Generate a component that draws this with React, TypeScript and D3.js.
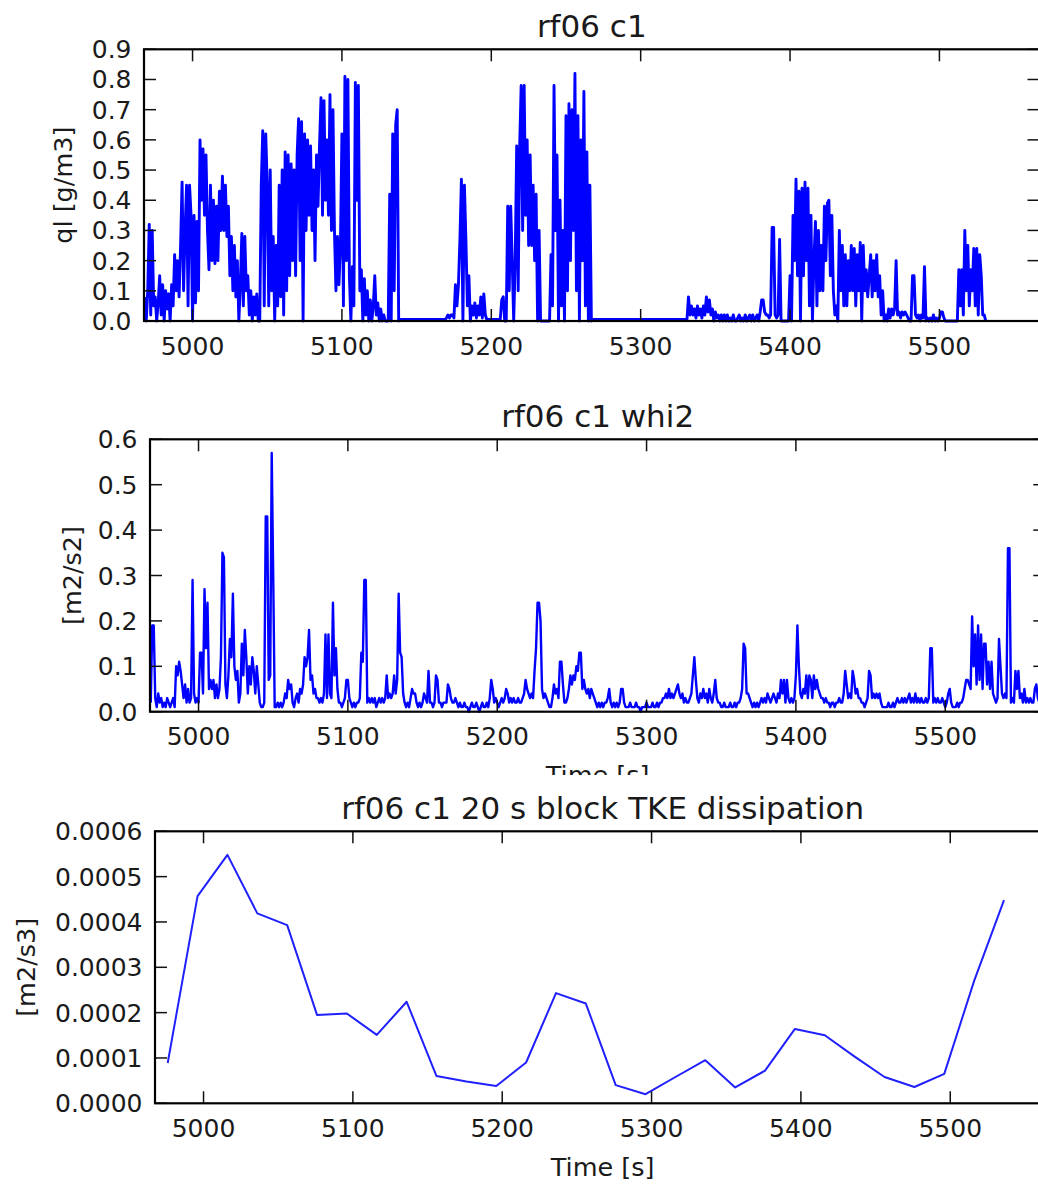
import React from 'react';
import * as d3 from 'd3';

// ---------------- data ----------------
const timeDomain: [number, number] = [4967.5, 5567];
const xTickValues = [5000, 5100, 5200, 5300, 5400, 5500];

const qlTicks = [0, 0.1, 0.2, 0.3, 0.4, 0.5, 0.6, 0.7, 0.8, 0.9];
const whi2Ticks = [0, 0.1, 0.2, 0.3, 0.4, 0.5, 0.6];
const dissTicks = [0, 0.0001, 0.0002, 0.0003, 0.0004, 0.0005, 0.0006];

// liquid water content [g/m3], 1 s samples; each entry: [start time, values...]
const qlSegments: [number, number[]][] = [
  [4968, [
    0.08, 0.0, 0.1, 0.32, 0.02, 0.3, 0.05, 0.08, 0.0, 0.06,
    0.15, 0.02, 0.12, 0.0, 0.1, 0.04, 0.09, 0.0, 0.12, 0.05,
    0.22, 0.1, 0.2, 0.08, 0.25, 0.46, 0.1, 0.3, 0.45, 0.05,
    0.45, 0.35, 0.0, 0.35, 0.06, 0.33, 0.1, 0.6, 0.4, 0.57,
    0.35, 0.55, 0.3, 0.17, 0.45, 0.2, 0.4, 0.19, 0.38, 0.2,
    0.43, 0.3, 0.48, 0.3, 0.45, 0.28, 0.38, 0.15, 0.28, 0.1,
    0.25, 0.08, 0.2, 0.0, 0.12, 0.29, 0.05, 0.28, 0.1, 0.15,
    0.02, 0.1, 0.0, 0.08, 0.02, 0.09, 0.0, 0.0, 0.45, 0.63,
    0.05, 0.62, 0.45, 0.05, 0.5, 0.1, 0.28, 0.0, 0.25, 0.05,
    0.45, 0.08, 0.5, 0.02, 0.56, 0.1, 0.55, 0.15, 0.52, 0.2,
    0.5, 0.15, 0.55, 0.67, 0.2, 0.66, 0.0, 0.62, 0.3, 0.6,
    0.35, 0.58, 0.3, 0.5, 0.2, 0.55, 0.38, 0.58, 0.74, 0.35,
    0.73, 0.4, 0.6, 0.35, 0.75, 0.3, 0.7, 0.3, 0.1, 0.28,
    0.12, 0.25, 0.62, 0.05, 0.81, 0.2, 0.8, 0.15, 0.0, 0.18,
    0.05, 0.79, 0.4, 0.78, 0.1, 0.17, 0.0, 0.14, 0.02, 0.1,
    0.0, 0.07, 0.0, 0.05, 0.15, 0.02, 0.06, 0.0, 0.04, 0.0,
    0.02, 0.0, 0.0, 0.0, 0.42, 0.0, 0.62, 0.1, 0.65, 0.7,
    0.0, 0.005,
  ]],
  [5169, [
    0.005, 0.01, 0.02, 0.01, 0.02, 0.02, 0.01, 0.12, 0.05, 0.12,
    0.27, 0.47, 0.0, 0.45, 0.27, 0.05, 0.15, 0.0, 0.05, 0.02,
    0.06, 0.01, 0.05, 0.02, 0.08, 0.01, 0.09, 0.02, 0.005,
  ]],
  [5206, [
    0.005, 0.07, 0.08, 0.0, 0.0, 0.38, 0.1, 0.38, 0.2, 0.0,
    0.2, 0.58, 0.1, 0.58, 0.78, 0.3, 0.78, 0.35, 0.6, 0.25,
    0.55, 0.25, 0.45, 0.2, 0.42, 0.0, 0.3, 0.0, 0.0, 0.0,
    0.0, 0.0, 0.0, 0.0, 0.22, 0.05, 0.78, 0.3, 0.55, 0.0,
    0.4, 0.05, 0.3, 0.0, 0.68, 0.1, 0.72, 0.2, 0.7, 0.3,
    0.82, 0.1, 0.68, 0.0, 0.6, 0.2, 0.76, 0.05, 0.56, 0.0,
    0.45, 0.0, 0.005,
  ]],
  [5331, [
    0.005, 0.08, 0.02, 0.05, 0.02, 0.04, 0.01, 0.05, 0.02, 0.04,
    0.01, 0.05, 0.02, 0.08, 0.03, 0.07, 0.02, 0.04, 0.0, 0.03,
    0.01, 0.02, 0.0, 0.02, 0.0, 0.02, 0.0, 0.02, 0.0, 0.01,
    0.0, 0.02, 0.0, 0.0, 0.01, 0.02, 0.0, 0.01, 0.0, 0.02,
    0.0, 0.01, 0.02, 0.0, 0.02, 0.0, 0.01, 0.02, 0.0, 0.03,
    0.07, 0.07, 0.03, 0.02, 0.02, 0.01, 0.02, 0.31, 0.31, 0.02,
    0.01, 0.02, 0.27, 0.0, 0.0, 0.0, 0.0, 0.0, 0.0, 0.15,
    0.0, 0.35, 0.2, 0.47, 0.15, 0.43, 0.0, 0.44, 0.15, 0.46,
    0.2, 0.44, 0.05, 0.35, 0.0, 0.2, 0.33, 0.05, 0.3, 0.1,
    0.25, 0.1, 0.38, 0.2, 0.39, 0.4, 0.15, 0.35, 0.1, 0.02,
    0.05, 0.0, 0.3, 0.1, 0.25, 0.05, 0.22, 0.05, 0.2, 0.1,
    0.25, 0.1, 0.24, 0.05, 0.22, 0.1, 0.26, 0.0, 0.25, 0.1,
    0.17, 0.08, 0.15, 0.22, 0.08, 0.2, 0.1, 0.22, 0.08, 0.15,
    0.02, 0.1, 0.0, 0.02, 0.0, 0.04, 0.01, 0.04, 0.02, 0.04,
    0.2, 0.02, 0.03, 0.01, 0.03, 0.02, 0.03, 0.02, 0.01, 0.0,
    0.0, 0.15, 0.15, 0.02, 0.01, 0.02, 0.0, 0.02, 0.01, 0.18,
    0.0, 0.01, 0.0, 0.01, 0.0, 0.02, 0.0, 0.01, 0.0, 0.01,
    0.03, 0.03, 0.01, 0.0,
  ]],
  [5512, [
    0.0, 0.17, 0.05, 0.17, 0.02, 0.3, 0.1, 0.25, 0.05, 0.17,
    0.1, 0.24, 0.05, 0.24, 0.02, 0.22, 0.15, 0.02, 0.02, 0.0,
  ]],
];

// vertical wind variance [m2/s2], 1 s samples starting at whi2Start
const whi2Start = 4968;
const whi2Values = [
  0.02, 0.19, 0.19, 0.03, 0.01, 0.04, 0.02, 0.03, 0.01, 0.02,
  0.01, 0.03, 0.02, 0.01, 0.02, 0.03, 0.01, 0.1, 0.08, 0.11,
  0.09, 0.06, 0.03, 0.06, 0.02, 0.05, 0.02, 0.03, 0.29, 0.04,
  0.02, 0.03, 0.02, 0.13, 0.13, 0.04, 0.27, 0.14, 0.24, 0.05,
  0.07, 0.05, 0.07, 0.03, 0.06, 0.03, 0.05, 0.12, 0.35, 0.34,
  0.06, 0.03, 0.08, 0.16, 0.12, 0.26, 0.1, 0.07, 0.09, 0.02,
  0.04, 0.15, 0.08, 0.18, 0.12, 0.04, 0.1, 0.06, 0.12, 0.09,
  0.04, 0.1, 0.06, 0.02, 0.01, 0.01, 0.02, 0.43, 0.43, 0.07,
  0.08, 0.57, 0.3, 0.01, 0.01, 0.02, 0.01, 0.02, 0.01, 0.02,
  0.04, 0.03, 0.07, 0.05, 0.06, 0.02, 0.01, 0.03, 0.04, 0.02,
  0.05, 0.04, 0.06, 0.12, 0.1, 0.12, 0.18, 0.07, 0.08, 0.04,
  0.05, 0.03, 0.03, 0.02, 0.03, 0.02, 0.04, 0.17, 0.03, 0.17,
  0.04, 0.03, 0.24, 0.08, 0.14, 0.05, 0.02, 0.02, 0.01, 0.02,
  0.03, 0.07, 0.07, 0.03, 0.02, 0.01, 0.02, 0.01, 0.02, 0.02,
  0.03, 0.13, 0.11, 0.29, 0.29, 0.02, 0.03, 0.02, 0.03, 0.02,
  0.03, 0.01, 0.02, 0.03, 0.02, 0.03, 0.02, 0.03, 0.08, 0.03,
  0.04, 0.03, 0.04, 0.08, 0.04, 0.07, 0.26, 0.13, 0.12, 0.04,
  0.02, 0.01, 0.02, 0.01, 0.03, 0.05, 0.04, 0.04, 0.02, 0.01,
  0.02, 0.01, 0.02, 0.04, 0.03, 0.02, 0.09, 0.02, 0.02, 0.01,
  0.02, 0.08, 0.07, 0.02, 0.02, 0.01, 0.02, 0.02, 0.02, 0.06,
  0.05, 0.03, 0.02, 0.02, 0.03, 0.02, 0.01, 0.02, 0.01, 0.01,
  0.02, 0.01, 0.01, 0.0, 0.01, 0.02, 0.01, 0.01, 0.02, 0.01,
  0.0, 0.01, 0.02, 0.01, 0.01, 0.02, 0.01, 0.03, 0.07, 0.05,
  0.02, 0.03, 0.02, 0.01, 0.02, 0.03, 0.02, 0.03, 0.05, 0.04,
  0.02, 0.03, 0.02, 0.03, 0.02, 0.02, 0.03, 0.02, 0.02, 0.03,
  0.04, 0.07, 0.05, 0.04, 0.03, 0.04, 0.03, 0.09, 0.14, 0.24,
  0.24, 0.2, 0.05, 0.03, 0.04, 0.03, 0.02, 0.01, 0.01, 0.03,
  0.06, 0.04, 0.05, 0.03, 0.11, 0.11, 0.06, 0.02, 0.02, 0.03,
  0.05, 0.08, 0.06, 0.08, 0.07, 0.1, 0.09, 0.13, 0.13, 0.05,
  0.07, 0.05, 0.04, 0.05, 0.03, 0.05, 0.04, 0.03, 0.02, 0.01,
  0.02, 0.01, 0.02, 0.01, 0.02, 0.02, 0.03, 0.05, 0.02, 0.01,
  0.02, 0.01, 0.02, 0.01, 0.02, 0.05, 0.05, 0.02, 0.01, 0.01,
  0.01, 0.02, 0.01, 0.01, 0.01, 0.02, 0.01, 0.01, 0.0, 0.01,
  0.01, 0.01, 0.02, 0.01, 0.01, 0.01, 0.02, 0.01, 0.01, 0.02,
  0.01, 0.02, 0.02, 0.03, 0.03, 0.04, 0.03, 0.05, 0.03, 0.04,
  0.03, 0.04, 0.05, 0.06, 0.04, 0.03, 0.04, 0.02, 0.03, 0.02,
  0.02, 0.03, 0.04, 0.08, 0.12, 0.07, 0.03, 0.02, 0.04, 0.03,
  0.05, 0.03, 0.04, 0.02, 0.05, 0.03, 0.02, 0.04, 0.07, 0.03,
  0.02, 0.02, 0.01, 0.01, 0.02, 0.01, 0.01, 0.01, 0.02, 0.01,
  0.01, 0.02, 0.01, 0.02, 0.02, 0.03, 0.05, 0.15, 0.14, 0.04,
  0.04, 0.03, 0.02, 0.01, 0.02, 0.01, 0.02, 0.01, 0.02, 0.03,
  0.02, 0.03, 0.02, 0.04, 0.03, 0.02, 0.03, 0.04, 0.03, 0.02,
  0.04, 0.03, 0.07, 0.04, 0.07, 0.02, 0.07, 0.03, 0.02, 0.03,
  0.02, 0.03, 0.08, 0.19, 0.1, 0.04, 0.03, 0.05, 0.04, 0.08,
  0.03, 0.08, 0.07, 0.03, 0.08, 0.05, 0.07, 0.05, 0.04, 0.03,
  0.03, 0.02, 0.03, 0.02, 0.02, 0.01, 0.02, 0.02, 0.01, 0.02,
  0.02, 0.03, 0.02, 0.02, 0.04, 0.09, 0.06, 0.03, 0.04, 0.03,
  0.09, 0.07, 0.04, 0.05, 0.03, 0.03, 0.02, 0.02, 0.01, 0.02,
  0.03, 0.09, 0.08, 0.03, 0.04, 0.03, 0.04, 0.03, 0.04, 0.02,
  0.01, 0.01, 0.01, 0.01, 0.02, 0.01, 0.01, 0.02, 0.01, 0.02,
  0.03, 0.02, 0.02, 0.03, 0.02, 0.03, 0.02, 0.03, 0.04, 0.02,
  0.03, 0.02, 0.04, 0.02, 0.03, 0.02, 0.03, 0.02, 0.02, 0.03,
  0.02, 0.03, 0.14, 0.14, 0.02, 0.03, 0.02, 0.03, 0.02, 0.02,
  0.03, 0.02, 0.01, 0.02, 0.04, 0.05, 0.02, 0.01, 0.01, 0.01,
  0.02, 0.01, 0.02, 0.02, 0.03, 0.05, 0.07, 0.07, 0.06, 0.05,
  0.21, 0.1, 0.17, 0.06, 0.19, 0.07, 0.17, 0.05, 0.15, 0.15,
  0.06, 0.11, 0.05, 0.11, 0.04, 0.03, 0.02, 0.03, 0.16, 0.1,
  0.04, 0.03, 0.04, 0.03, 0.36, 0.36, 0.02, 0.03, 0.02, 0.09,
  0.05, 0.09, 0.03, 0.04, 0.02, 0.05, 0.02, 0.03, 0.02, 0.03,
  0.02, 0.02, 0.05, 0.06, 0.03, 0.02, 0.03, 0.02, 0.04, 0.05,
];

// 20 s block TKE dissipation [m2/s3]
const dissTimes = [
  4976, 4996, 5016, 5036, 5056, 5076, 5096, 5116, 5136, 5156,
  5176, 5196, 5216, 5236, 5256, 5276, 5296, 5316, 5336, 5356,
  5376, 5396, 5416, 5436, 5456, 5476, 5496, 5516, 5536,
];
const dissValues = [
  0.000089, 0.000457, 0.000548, 0.000419, 0.000393, 0.000195, 0.000198, 0.000151, 0.000224, 0.00006,
  0.000048, 0.000038, 0.00009, 0.000243, 0.00022, 0.00004, 0.00002, 0.000058, 0.000095, 0.000035,
  0.000072, 0.000164, 0.00015, 0.000103, 0.000058, 0.000036, 0.000065, 0.00027, 0.000448,
];

// ---------------- drawing ----------------
const TEXT = '#1a1a1a';
const FONT = 'DejaVu Sans, Bitstream Vera Sans, sans-serif';
const TICK_FS = 25;
const TITLE_FS = 31;
const LABEL_FS = 25.5;
const TICK_LEN = 12;

type PanelProps = {
  id: string;
  data: [number, number][];
  left: number;
  right: number;
  top: number;
  bottom: number;
  yTicks: number[];
  fmt: (v: number) => string;
  title: string;
  ylabel: string;
  ylabelX: number;
  xlabel?: string;
  xlabelClipY?: number;
  strokeWidth: number;
  stroke: string;
};

function Panel(p: PanelProps) {
  const x = d3.scaleLinear().domain(timeDomain).range([p.left, p.right]);
  const y = d3
    .scaleLinear()
    .domain([0, p.yTicks[p.yTicks.length - 1]])
    .range([p.bottom, p.top]);
  const line = d3
    .line<[number, number]>()
    .x((d) => x(d[0]))
    .y((d) => y(d[1]));
  const cx = (p.left + p.right) / 2;
  const cy = (p.top + p.bottom) / 2;
  const clipId = `clip-${p.id}`;
  const labClipId = `labclip-${p.id}`;
  return (
    <g>
      <defs>
        <clipPath id={clipId}>
          <rect x={p.left} y={p.top - 2} width={p.right - p.left} height={p.bottom - p.top + 4} />
        </clipPath>
        {p.xlabelClipY !== undefined && (
          <clipPath id={labClipId}>
            <rect x={0} y={0} width={1100} height={p.xlabelClipY} />
          </clipPath>
        )}
      </defs>
      <path
        d={line(p.data) || ''}
        fill="none"
        stroke={p.stroke}
        strokeWidth={p.strokeWidth}
        strokeLinejoin="round"
        clipPath={`url(#${clipId})`}
      />
      {xTickValues.map((t) => (
        <g key={`xt${t}`} stroke="#111" strokeWidth={1.5}>
          <line x1={x(t)} x2={x(t)} y1={p.bottom} y2={p.bottom - TICK_LEN} />
          <line x1={x(t)} x2={x(t)} y1={p.top} y2={p.top + TICK_LEN} />
        </g>
      ))}
      {p.yTicks.map((v) => (
        <g key={`yt${v}`} stroke="#111" strokeWidth={1.5}>
          <line x1={p.left} x2={p.left + TICK_LEN} y1={y(v)} y2={y(v)} />
          <line x1={p.right} x2={p.right - TICK_LEN} y1={y(v)} y2={y(v)} />
        </g>
      ))}
      <rect
        x={p.left}
        y={p.top}
        width={p.right - p.left}
        height={p.bottom - p.top}
        fill="none"
        stroke="#000"
        strokeWidth={2.2}
      />
      {xTickValues.map((t) => (
        <text
          key={`xl${t}`}
          x={x(t)}
          y={p.bottom + 33.5}
          textAnchor="middle"
          fontSize={TICK_FS}
          fill={TEXT}
        >
          {t}
        </text>
      ))}
      {p.yTicks.map((v) => (
        <text
          key={`yl${v}`}
          x={p.left - 12.5}
          y={y(v) + 9}
          textAnchor="end"
          fontSize={TICK_FS}
          fill={TEXT}
        >
          {p.fmt(v)}
        </text>
      ))}
      <text x={cx} y={p.top - 12} textAnchor="middle" fontSize={TITLE_FS} fill={TEXT}>
        {p.title}
      </text>
      <text
        transform={`translate(${p.ylabelX},${cy}) rotate(-90)`}
        textAnchor="middle"
        dominantBaseline="central"
        fontSize={LABEL_FS}
        fill={TEXT}
      >
        {p.ylabel}
      </text>
      {p.xlabel && (
        <text
          x={cx}
          y={p.bottom + 72.5}
          textAnchor="middle"
          fontSize={LABEL_FS}
          fill={TEXT}
          clipPath={p.xlabelClipY !== undefined ? `url(#${labClipId})` : undefined}
        >
          {p.xlabel}
        </text>
      )}
    </g>
  );
}

export default function App() {
  const qlData: [number, number][] = qlSegments.flatMap(([t0, vs]) =>
    vs.map((v, i) => [t0 + i, v] as [number, number])
  );
  const whi2Data: [number, number][] = whi2Values.map((v, i) => [whi2Start + i, v]);
  const dissData: [number, number][] = dissTimes.map((t, i) => [t, dissValues[i]]);
  const f1 = d3.format('.1f');
  const f4 = d3.format('.4f');
  return (
    <svg
      width={1038}
      height={1185}
      style={{ position: 'absolute', left: 0, top: 0, background: '#fff', display: 'block' }}
      fontFamily={FONT}
    >
      <rect x={0} y={0} width={1038} height={1185} fill="#fff" />
      <Panel
        id="p1"
        data={qlData}
        left={144}
        right={1039.5}
        top={49.3}
        bottom={321}
        yTicks={qlTicks}
        fmt={f1}
        title="rf06 c1"
        ylabel="ql [g/m3]"
        ylabelX={63}
        strokeWidth={2.9}
        stroke="#0000ff"
      />
      <Panel
        id="p2"
        data={whi2Data}
        left={150}
        right={1045.3}
        top={439.3}
        bottom={711.7}
        yTicks={whi2Ticks}
        fmt={f1}
        title="rf06 c1 whi2"
        ylabel="[m2/s2]"
        ylabelX={71.5}
        xlabel="Time [s]"
        xlabelClipY={775}
        strokeWidth={2.4}
        stroke="#0000ff"
      />
      <Panel
        id="p3"
        data={dissData}
        left={155}
        right={1050.3}
        top={831.3}
        bottom={1103.3}
        yTicks={dissTicks}
        fmt={f4}
        title="rf06 c1 20 s block TKE dissipation"
        ylabel="[m2/s3]"
        ylabelX={26}
        xlabel="Time [s]"
        strokeWidth={2}
        stroke="#2020ff"
      />
    </svg>
  );
}
